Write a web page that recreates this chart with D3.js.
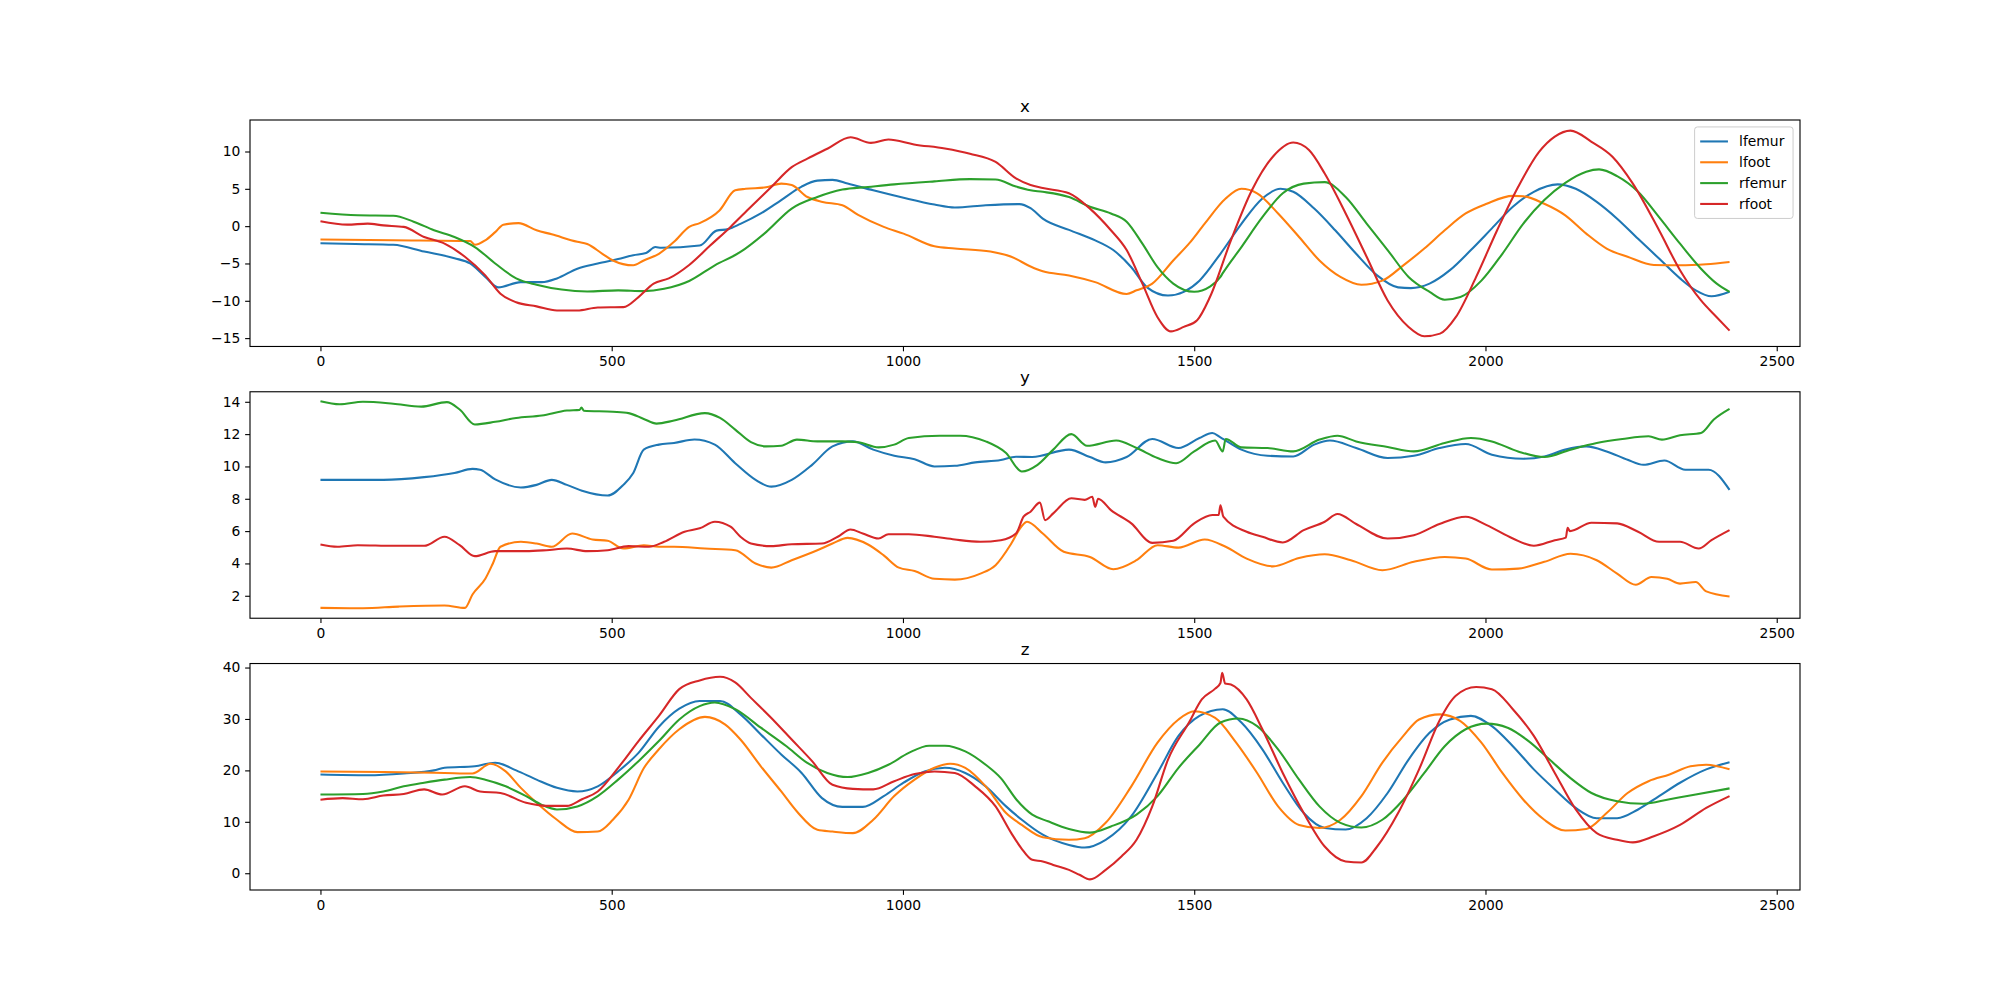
<!DOCTYPE html>
<html>
<head>
<meta charset="utf-8">
<script src="https://cdn.jsdelivr.net/npm/d3@7"></script>
<style>
  html, body { margin: 0; padding: 0; background: #ffffff; }
  svg { display: block; font-family: "DejaVu Sans", sans-serif; }
</style>
</head>
<body>
<svg id="chart" width="2000" height="1000"></svg>
<script>
// ---------------- data ----------------
const seriesNames = ["lfemur", "lfoot", "rfemur", "rfoot"];
const seriesColors = ["#1f77b4", "#ff7f0e", "#2ca02c", "#d62728"];
const panelTitles = ["x", "y", "z"];
const frameTicks = [0, 500, 1000, 1500, 2000, 2500];
const xValueTicks = [-15, -10, -5, 0, 5, 10];
const yValueTicks = [2, 4, 6, 8, 10, 12, 14];
const zValueTicks = [0, 10, 20, 30, 40];
const frameDomain = [-120.95, 2539.95];
const xValueDomain = [-16.12, 14.22];
const yValueDomain = [0.61, 14.62];
const zValueDomain = [-3.26, 40.78];

// panel "x"  — [frame, value]
const xLfemur = [[0,-2.3],[60,-2.4],[125,-2.5],[178,-3.4],[230,-4.3],[257,-5.0],[283,-6.8],[305,-8.2],[344,-7.5],[380,-7.5],[406,-7.0],[441,-5.7],[476,-5.0],[511,-4.4],[537,-3.9],[559,-3.6],[575,-2.8],[585,-2.9],[651,-2.6],[680,-0.6],[700,-0.4],[721,0.3],[756,1.7],[791,3.5],[826,5.3],[853,6.1],[879,6.2],[905,5.7],[949,4.8],[1001,3.8],[1054,2.9],[1089,2.5],[1142,2.8],[1200,2.95],[1219,2.4],[1240,1.0],[1285,-0.5],[1330,-1.9],[1361,-3.2],[1392,-5.5],[1419,-8.2],[1455,-9.3],[1482,-8.8],[1509,-7.3],[1545,-3.7],[1581,0.3],[1617,3.7],[1648,5.0],[1670,4.6],[1706,2.35],[1742,-0.55],[1778,-3.7],[1814,-6.6],[1850,-8.2],[1872,-8.3],[1904,-7.7],[1939,-5.9],[1975,-3.2],[2011,-0.3],[2047,2.6],[2083,4.6],[2124,5.6],[2155,5.0],[2191,3.25],[2226,1.0],[2262,-1.7],[2298,-4.35],[2334,-7.0],[2361,-8.6],[2388,-9.4],[2419,-8.8]];
const xLfoot = [[0,-1.8],[125,-1.9],[257,-2.0],[265,-2.5],[283,-1.9],[300,-0.8],[314,0.2],[340,0.4],[371,-0.55],[397,-1.1],[441,-2.1],[458,-2.4],[484,-3.7],[502,-4.6],[537,-5.25],[555,-4.6],[581,-3.7],[607,-2.1],[633,-0.1],[651,0.4],[685,2.1],[712,4.8],[730,5.0],[765,5.2],[791,5.7],[809,5.5],[836,3.9],[862,3.25],[896,2.8],[923,1.5],[967,-0.1],[1001,-1.0],[1054,-2.7],[1089,-3.0],[1150,-3.4],[1186,-4.1],[1219,-5.4],[1240,-6.05],[1285,-6.6],[1330,-7.5],[1384,-9.1],[1401,-8.6],[1428,-7.7],[1464,-4.6],[1491,-2.35],[1518,0.34],[1554,3.7],[1581,5.0],[1608,4.4],[1644,1.7],[1680,-1.45],[1715,-4.6],[1751,-6.8],[1787,-7.85],[1823,-7.3],[1859,-5.25],[1895,-3.0],[1930,-0.55],[1966,1.7],[2002,3.0],[2047,4.05],[2065,4.0],[2101,3.0],[2137,1.45],[2173,-1.0],[2208,-3.0],[2244,-4.1],[2289,-5.2],[2334,-5.25],[2379,-5.1],[2419,-4.8]];
const xRfemur = [[0,1.8],[64,1.45],[125,1.4],[160,0.6],[195,-0.55],[230,-1.45],[265,-2.8],[300,-5.0],[336,-7.0],[371,-7.85],[414,-8.5],[458,-8.75],[511,-8.6],[555,-8.7],[590,-8.4],[633,-7.35],[677,-5.25],[721,-3.46],[765,-0.8],[809,2.35],[853,3.9],[896,4.9],[940,5.25],[985,5.6],[1054,6.0],[1115,6.3],[1159,6.25],[1194,5.3],[1219,4.8],[1240,4.6],[1285,3.9],[1321,2.6],[1357,1.7],[1384,0.6],[1411,-2.35],[1437,-5.5],[1464,-7.7],[1500,-8.8],[1527,-8.1],[1545,-6.8],[1549,-6.3],[1581,-2.8],[1617,1.2],[1652,4.4],[1688,5.7],[1724,5.9],[1760,3.9],[1796,0.34],[1832,-3.2],[1868,-6.8],[1904,-8.8],[1930,-9.85],[1957,-9.5],[1993,-7.3],[2029,-3.7],[2065,0.34],[2101,3.5],[2137,5.8],[2173,7.3],[2195,7.6],[2226,6.7],[2262,4.6],[2298,1.2],[2334,-2.35],[2370,-5.7],[2397,-7.7],[2419,-8.8]];
const xRfoot = [[0,0.65],[46,0.2],[81,0.34],[108,0.1],[143,-0.1],[178,-1.45],[213,-2.35],[248,-4.1],[283,-6.6],[309,-9.05],[336,-10.2],[371,-10.75],[406,-11.3],[441,-11.3],[476,-10.9],[520,-10.85],[546,-9.5],[572,-7.7],[598,-7.0],[633,-5.2],[669,-2.6],[704,-0.1],[739,2.6],[774,5.25],[809,7.9],[836,9.05],[871,10.4],[910,11.9],[945,11.15],[975,11.6],[1019,10.95],[1072,10.4],[1115,9.7],[1159,8.6],[1194,6.4],[1219,5.5],[1240,5.1],[1285,4.4],[1321,2.35],[1357,-0.55],[1384,-3.2],[1411,-7.7],[1437,-12.2],[1460,-14.1],[1482,-13.5],[1505,-12.6],[1527,-9.5],[1563,-1.9],[1599,4.8],[1635,9.3],[1670,11.2],[1697,10.2],[1724,7.05],[1760,1.7],[1796,-4.1],[1832,-9.95],[1868,-13.5],[1895,-14.75],[1922,-14.4],[1949,-12.2],[1984,-6.8],[2020,-0.55],[2056,5.25],[2092,9.95],[2119,12.0],[2146,12.8],[2182,11.3],[2218,9.3],[2253,5.7],[2298,-0.55],[2334,-5.9],[2370,-9.95],[2397,-12.2],[2419,-14.0]];

// panel "y"
const yLfemur = [[0,9.17],[108,9.17],[178,9.34],[230,9.6],[261,9.85],[274,9.8],[300,9.2],[344,8.7],[371,8.86],[397,9.17],[423,8.86],[449,8.5],[493,8.2],[520,8.86],[537,9.6],[555,11.04],[581,11.35],[607,11.45],[642,11.67],[677,11.35],[712,10.2],[747,9.17],[774,8.75],[809,9.17],[844,10.1],[879,11.24],[914,11.55],[949,11.04],[985,10.66],[1020,10.45],[1054,10.0],[1089,10.04],[1124,10.25],[1168,10.4],[1194,10.6],[1222,10.58],[1285,11.04],[1321,10.58],[1348,10.25],[1384,10.58],[1428,11.7],[1473,11.14],[1509,11.76],[1531,12.07],[1545,11.8],[1581,11.04],[1626,10.66],[1670,10.62],[1706,11.35],[1733,11.6],[1778,11.14],[1832,10.52],[1877,10.66],[1921,11.14],[1966,11.39],[2011,10.73],[2065,10.48],[2101,10.62],[2137,11.04],[2173,11.24],[2208,10.93],[2244,10.41],[2271,10.1],[2307,10.37],[2343,9.8],[2383,9.8],[2419,8.55]];
const yLfoot = [[0,1.25],[73,1.23],[134,1.33],[213,1.4],[248,1.25],[261,2.08],[283,3.05],[296,4.0],[309,5.03],[344,5.34],[371,5.23],[397,5.03],[432,5.85],[467,5.48],[493,5.4],[520,4.92],[555,5.13],[581,5.03],[607,5.03],[660,4.92],[712,4.82],[747,4.0],[774,3.74],[809,4.2],[853,4.82],[879,5.23],[905,5.58],[940,5.17],[967,4.5],[993,3.74],[1020,3.53],[1054,3.05],[1089,3.0],[1133,3.37],[1159,3.89],[1186,5.23],[1203,6.27],[1213,6.58],[1240,5.85],[1276,4.72],[1321,4.4],[1361,3.64],[1401,4.2],[1437,5.13],[1473,4.98],[1518,5.48],[1554,5.03],[1590,4.3],[1635,3.82],[1680,4.34],[1724,4.57],[1769,4.2],[1823,3.58],[1877,4.1],[1930,4.4],[1966,4.3],[2011,3.62],[2056,3.68],[2101,4.1],[2146,4.6],[2191,4.2],[2226,3.37],[2258,2.68],[2285,3.16],[2312,3.05],[2334,2.75],[2361,2.85],[2379,2.27],[2419,1.96]];
const yRfemur = [[0,14.04],[33,13.85],[73,14.0],[125,13.88],[173,13.7],[217,13.98],[239,13.52],[265,12.6],[300,12.76],[336,13.0],[380,13.15],[423,13.46],[445,13.5],[448,13.65],[452,13.45],[502,13.38],[529,13.3],[555,12.94],[577,12.65],[607,12.84],[660,13.3],[686,13.0],[712,12.28],[739,11.5],[765,11.24],[791,11.28],[818,11.66],[853,11.55],[896,11.55],[923,11.5],[958,11.18],[985,11.35],[1010,11.76],[1063,11.9],[1098,11.9],[1142,11.55],[1177,10.83],[1204,9.69],[1231,10.1],[1258,11.04],[1289,12.0],[1316,11.28],[1366,11.6],[1401,11.14],[1437,10.52],[1469,10.2],[1500,10.93],[1536,11.6],[1549,10.93],[1554,11.7],[1581,11.18],[1626,11.14],[1670,10.93],[1715,11.66],[1746,11.9],[1778,11.55],[1832,11.2],[1877,10.93],[1930,11.45],[1975,11.76],[2011,11.55],[2056,10.93],[2101,10.58],[2146,11.04],[2191,11.45],[2235,11.7],[2280,11.87],[2303,11.66],[2334,11.93],[2370,12.07],[2392,12.9],[2419,13.56]];
const yRfoot = [[0,5.17],[29,5.03],[64,5.13],[125,5.09],[178,5.09],[213,5.65],[239,5.13],[265,4.45],[300,4.76],[353,4.76],[388,4.82],[423,4.92],[458,4.76],[493,4.82],[529,5.07],[564,5.03],[590,5.34],[625,5.96],[651,6.17],[677,6.58],[704,6.27],[721,5.65],[739,5.23],[774,5.07],[809,5.19],[861,5.23],[888,5.65],[910,6.1],[931,5.85],[958,5.54],[975,5.81],[1010,5.81],[1054,5.65],[1089,5.48],[1133,5.34],[1168,5.44],[1194,5.85],[1207,6.89],[1219,7.2],[1235,7.76],[1244,6.68],[1258,7.1],[1289,8.03],[1312,7.93],[1325,8.13],[1330,7.5],[1335,8.0],[1357,7.3],[1392,6.48],[1428,5.27],[1464,5.4],[1500,6.48],[1531,7.0],[1542,7.0],[1545,7.6],[1550,6.9],[1590,5.96],[1617,5.65],[1652,5.3],[1688,6.06],[1724,6.58],[1746,7.06],[1778,6.44],[1832,5.54],[1877,5.75],[1921,6.44],[1966,6.89],[2002,6.37],[2047,5.54],[2083,5.09],[2119,5.44],[2138,5.6],[2141,6.2],[2145,6.0],[2182,6.52],[2226,6.48],[2262,5.96],[2298,5.34],[2334,5.34],[2366,4.92],[2388,5.44],[2419,6.06]];

// panel "z"
const zLfemur = [[0,19.2],[81,19.06],[143,19.4],[195,20.0],[213,20.5],[265,20.8],[300,21.5],[336,20.0],[371,18.2],[406,16.6],[441,15.9],[476,16.9],[511,19.8],[546,23.4],[581,28.5],[616,32.0],[651,33.5],[686,33.5],[721,30.9],[756,27.0],[791,23.1],[826,19.5],[861,14.6],[896,12.9],[931,12.9],[967,15.0],[1001,17.6],[1037,19.8],[1072,20.5],[1107,19.5],[1142,16.9],[1177,13.0],[1204,10.4],[1240,7.5],[1285,5.5],[1312,5.0],[1348,6.5],[1392,11.1],[1437,19.5],[1473,26.7],[1509,30.6],[1549,31.9],[1581,29.3],[1617,24.1],[1652,17.6],[1688,11.7],[1724,8.8],[1760,8.5],[1796,10.7],[1832,15.6],[1868,22.1],[1904,27.3],[1939,29.9],[1975,30.6],[2011,28.6],[2047,24.7],[2083,20.2],[2119,16.3],[2155,12.7],[2191,10.7],[2226,10.7],[2262,12.4],[2298,15.0],[2334,17.6],[2379,20.2],[2419,21.6]];
const zLfoot = [[0,19.8],[108,19.7],[213,19.5],[261,19.4],[292,21.3],[318,19.8],[344,16.6],[371,13.7],[406,10.4],[441,8.0],[476,8.1],[502,10.4],[529,14.3],[555,20.4],[581,24.1],[616,28.0],[660,30.4],[695,28.9],[721,26.0],[756,20.8],[791,15.9],[818,12.0],[853,8.45],[879,8.1],[914,7.8],[949,10.4],[985,15.0],[1020,18.2],[1054,20.5],[1081,21.3],[1107,20.5],[1142,16.9],[1177,11.7],[1204,9.4],[1240,7.0],[1285,6.5],[1312,6.8],[1348,9.8],[1392,16.9],[1437,25.4],[1473,29.9],[1500,31.5],[1536,30.2],[1572,25.4],[1608,19.5],[1644,13.0],[1680,9.4],[1715,8.8],[1751,10.4],[1787,15.0],[1823,21.5],[1859,26.7],[1886,29.9],[1922,30.9],[1957,29.6],[1993,25.4],[2029,19.5],[2065,14.3],[2101,10.4],[2137,8.3],[2173,8.6],[2208,11.7],[2244,15.6],[2280,17.9],[2316,19.2],[2352,20.8],[2379,21.1],[2419,20.2]];
const zRfemur = [[0,15.3],[73,15.4],[108,15.9],[143,16.9],[178,17.6],[213,18.2],[257,18.7],[283,18.2],[318,16.9],[353,15.0],[380,13.3],[406,12.4],[441,13.0],[476,15.0],[511,18.2],[546,21.8],[581,25.7],[616,29.9],[651,32.5],[677,33.2],[712,31.9],[756,28.3],[800,24.7],[835,21.5],[870,19.5],[905,18.7],[940,19.5],[975,21.1],[1010,23.4],[1045,24.8],[1072,24.8],[1107,23.7],[1142,21.1],[1168,18.5],[1195,14.3],[1222,11.4],[1249,10.1],[1285,8.6],[1321,7.9],[1357,9.1],[1401,11.4],[1437,15.0],[1473,20.5],[1509,25.0],[1545,29.3],[1576,30.1],[1608,28.6],[1644,24.1],[1680,18.2],[1715,13.0],[1751,9.8],[1787,8.9],[1823,10.4],[1859,14.3],[1895,19.5],[1930,24.7],[1966,28.0],[2002,29.1],[2038,28.3],[2074,25.7],[2110,22.1],[2146,18.5],[2182,15.6],[2226,14.0],[2271,13.5],[2316,14.4],[2361,15.3],[2419,16.5]];
const zRfoot = [[0,14.3],[38,14.6],[73,14.4],[108,15.1],[143,15.4],[178,16.3],[209,15.3],[248,16.9],[274,15.9],[309,15.6],[353,13.7],[388,13.1],[423,13.1],[449,14.4],[476,15.9],[511,20.5],[546,25.7],[581,30.6],[616,35.8],[651,37.5],[686,38.2],[712,37.1],[739,34.1],[774,30.2],[809,26.0],[844,21.8],[879,17.2],[914,16.4],[949,16.3],[985,17.9],[1020,19.3],[1054,19.8],[1089,19.5],[1124,16.9],[1159,13.0],[1186,7.8],[1203,4.9],[1222,2.6],[1240,2.3],[1258,1.6],[1285,0.65],[1303,-0.3],[1321,-1.2],[1348,0.65],[1375,3.25],[1401,6.5],[1428,13.0],[1455,22.1],[1491,29.3],[1513,33.8],[1536,35.9],[1545,37.0],[1548,39.0],[1553,36.9],[1563,36.7],[1590,33.8],[1617,28.0],[1652,19.5],[1688,11.7],[1724,5.2],[1760,2.3],[1787,2.1],[1814,5.2],[1850,11.7],[1886,20.2],[1922,29.9],[1949,34.5],[1984,36.2],[2011,35.8],[2047,31.9],[2083,26.7],[2119,19.5],[2155,12.4],[2191,7.8],[2226,6.5],[2253,6.0],[2289,7.2],[2334,9.4],[2379,12.7],[2419,15.0]];

// ---------------- layout ----------------
const panels = [
  { title: panelTitles[0], domain: xValueDomain, ticks: xValueTicks, series: [xLfemur, xLfoot, xRfemur, xRfoot], legend: true },
  { title: panelTitles[1], domain: yValueDomain, ticks: yValueTicks, series: [yLfemur, yLfoot, yRfemur, yRfoot], legend: false },
  { title: panelTitles[2], domain: zValueDomain, ticks: zValueTicks, series: [zLfemur, zLfoot, zRfemur, zRfoot], legend: false }
];

const figW = 2000, figH = 1000;
const axLeft = 0.125 * figW, axRight = 0.9 * figW;
const axTop = (1 - 0.88) * figH, axBottom = (1 - 0.11) * figH;
const hspace = 0.2;
const axH = (axBottom - axTop) / (3 + 2 * hspace);
const axGap = axH * hspace;

const pt = 100 / 72;        // px per point at dpi 100
const tickFont = 10 * pt;    // 13.9px
const titleFont = 12 * pt;   // 16.7px
const tickLen = 3.5 * pt;
const tickPad = 3.5 * pt;
const lineW = 1.5 * pt;

const svg = d3.select("#chart");
svg.append("rect").attr("width", figW).attr("height", figH).attr("fill", "#ffffff");

const xScale = d3.scaleLinear().domain(frameDomain).range([axLeft, axRight]);
const fmt = d3.format("d");

panels.forEach((p, i) => {
  const y0 = axTop + i * (axH + axGap);
  const y1 = y0 + axH;
  const yScale = d3.scaleLinear().domain(p.domain).range([y1, y0]);
  const g = svg.append("g");

  const clipId = "clip" + i;
  svg.append("clipPath").attr("id", clipId)
    .append("rect").attr("x", axLeft).attr("y", y0).attr("width", axRight - axLeft).attr("height", axH);

  const line = d3.line()
    .x(d => xScale(d[0]))
    .y(d => yScale(d[1]))
    .curve(d3.curveMonotoneX);

  const lines = g.append("g").attr("clip-path", `url(#${clipId})`);
  p.series.forEach((s, k) => {
    lines.append("path")
      .datum(s)
      .attr("d", line)
      .attr("fill", "none")
      .attr("stroke", seriesColors[k])
      .attr("stroke-width", lineW)
      .attr("stroke-linejoin", "round")
      .attr("stroke-linecap", "butt");
  });

  const xAxis = d3.axisBottom(xScale).tickValues(frameTicks).tickFormat(fmt)
    .tickSize(tickLen).tickPadding(tickPad);
  const yAxis = d3.axisLeft(yScale).tickValues(p.ticks).tickFormat(fmt)
    .tickSize(tickLen).tickPadding(tickPad);

  const gx = g.append("g").attr("transform", `translate(0,${y1})`).call(xAxis);
  const gy = g.append("g").attr("transform", `translate(${axLeft},0)`).call(yAxis);
  [gx, gy].forEach(ax => {
    ax.select(".domain").remove();
    ax.selectAll(".tick line").attr("stroke", "#000").attr("stroke-width", 0.8 * pt);
    ax.selectAll(".tick text").attr("fill", "#000")
      .style("font-family", "'DejaVu Sans', sans-serif").style("font-size", tickFont + "px");
  });

  g.append("rect")
    .attr("x", axLeft).attr("y", y0).attr("width", axRight - axLeft).attr("height", axH)
    .attr("fill", "none").attr("stroke", "#000").attr("stroke-width", 0.8 * pt);

  g.append("text")
    .attr("x", (axLeft + axRight) / 2).attr("y", y0 - 6 * pt)
    .attr("text-anchor", "middle")
    .style("font-family", "'DejaVu Sans', sans-serif")
    .style("font-size", titleFont + "px")
    .attr("fill", "#000")
    .text(p.title);

  if (p.legend) {
    const pad = 0.5 * tickFont;
    const borderPad = 0.4 * tickFont;
    const handleLen = 2 * tickFont;
    const handleGap = 0.8 * tickFont;
    const rowH = tickFont * 1.5;
    const lg = g.append("g");
    const items = lg.append("g");
    seriesNames.forEach((name, k) => {
      const cy = borderPad + tickFont * 0.5 + 2 + k * rowH;
      items.append("line")
        .attr("x1", borderPad).attr("x2", borderPad + handleLen)
        .attr("y1", cy).attr("y2", cy)
        .attr("stroke", seriesColors[k]).attr("stroke-width", lineW);
      items.append("text")
        .attr("x", borderPad + handleLen + handleGap)
        .attr("y", cy).attr("dy", "0.35em")
        .style("font-family", "'DejaVu Sans', sans-serif")
        .style("font-size", tickFont + "px")
        .attr("fill", "#000")
        .text(name);
    });
    const bb = items.node().getBBox();
    const boxW = bb.x + bb.width + borderPad + 1;
    const boxH = borderPad * 2 + tickFont * 0.5 + 2 + (seriesNames.length - 1) * rowH + tickFont * 0.5 + 2;
    lg.insert("rect", ":first-child")
      .attr("x", 0).attr("y", 0).attr("width", boxW).attr("height", boxH)
      .attr("rx", 0.2 * tickFont).attr("ry", 0.2 * tickFont)
      .attr("fill", "#ffffff").attr("fill-opacity", 0.8)
      .attr("stroke", "#cccccc").attr("stroke-width", 1);
    lg.attr("transform", `translate(${axRight - pad - boxW},${y0 + pad})`);
  }
});
</script>
</body>
</html>
